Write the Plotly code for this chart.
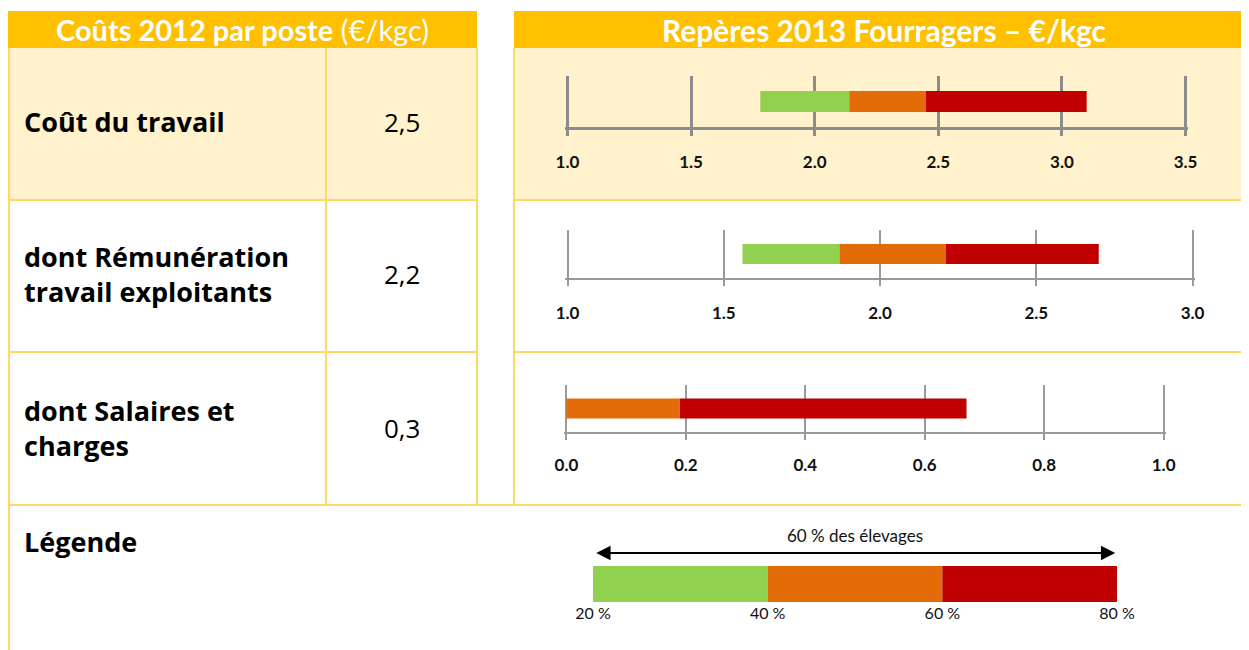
import plotly.graph_objects as go

# ---------------- data ----------------
categories = ["Coût du travail", "dont Rémunération<br>travail exploitants", "dont Salaires et<br>charges"]
values_2012 = [2.5, 2.2, 0.3]
p20 = [1.78, 1.56, 0.00]
p40 = [2.14, 1.87, 0.00]
p60 = [2.45, 2.21, 0.19]
p80 = [3.10, 2.70, 0.67]
axis_min = [1.0, 1.0, 0.0]
axis_max = [3.5, 3.0, 1.0]
axis_step = [0.5, 0.5, 0.2]
legend_pct = [20, 40, 60, 80]

header_left = "<b>Coûts 2012 par poste</b> (€/kgc)"
header_right = "<b>Repères 2013 Fourragers – €/kgc</b>"
legend_title = "Légende"
legend_arrow_text = "60 % des élevages"

GREEN, ORANGE, RED = "#92D050", "#E36C09", "#C00000"
GOLD, PALE, BORDER = "#FFC000", "#FFF2CC", "#FFD966"

W, H = 1249, 650
OFF = 8  # page offset of the figure inside the browser page
def X(px): return (px - OFF) / W
def Y(py): return 1 - (py - OFF) / H

FONT = "Lato"
FONT_LBL = "Open Sans"

fig = go.Figure()

# pixel placement of the three axis panels: x0, x1, ytop, ybottom
panels = [(565, 1188, 76, 127), (565, 1195, 230, 278), (564, 1166, 385, 432)]
bar_px = [21, 20, 20]
grid_style = [("#8C8C8C", 2.5), ("#9A9A9A", 1.5), ("#9A9A9A", 1.5)]
standoff = [12, 13, 11]

layout_axes = {}
for i in range(3):
    n = "" if i == 0 else str(i + 1)
    x0, x1, yt, yb = panels[i]
    h = bar_px[i] / (yb - yt)
    segs = [(p20[i], p40[i], GREEN), (p40[i], p60[i], ORANGE), (p60[i], p80[i], RED)]
    for a, b, c in segs:
        fig.add_trace(go.Bar(x=[b - a], base=[a], y=[0], orientation="h", width=h,
                             marker=dict(color=c, line=dict(width=0)),
                             xaxis="x" + n, yaxis="y" + n, showlegend=False,
                             hoverinfo="skip"))
    col, lw = grid_style[i]
    span = axis_max[i] - axis_min[i]
    pad = span * 0.004
    layout_axes["xaxis" + n] = dict(
        domain=[X(x0), X(x1)], anchor="y" + n, automargin=False,
        range=[axis_min[i] - pad, axis_max[i] + pad],
        tickmode="linear", tick0=axis_min[i], dtick=axis_step[i], tickformat=".1f",
        showgrid=True, gridcolor=col, gridwidth=lw,
        showline=True, linecolor=col, linewidth=lw,
        ticks="outside", ticklen=6, tickcolor=col, tickwidth=lw,
        ticklabelstandoff=standoff[i],
        tickfont=dict(family=FONT, size=17, color="#111111", weight="bold"),
        zeroline=False, fixedrange=True)
    layout_axes["yaxis" + n] = dict(
        domain=[Y(yb), Y(yt)], anchor="x" + n, range=[-0.5, 0.5], automargin=False,
        showgrid=False, showticklabels=False, zeroline=False, showline=False,
        fixedrange=True)

# legend bar
leg_colors = [GREEN, ORANGE, RED]
for k in range(3):
    fig.add_trace(go.Bar(x=[legend_pct[k + 1] - legend_pct[k]], base=[legend_pct[k]], y=[0],
                         orientation="h", width=1,
                         marker=dict(color=leg_colors[k], line=dict(width=0)),
                         xaxis="x4", yaxis="y4", showlegend=False, hoverinfo="skip"))
layout_axes["xaxis4"] = dict(
    domain=[X(593), X(1117)], anchor="y4", range=[legend_pct[0], legend_pct[-1]],
    automargin=False,
    tickvals=legend_pct, ticktext=[f"{v} %" for v in legend_pct],
    showgrid=False, showline=False, zeroline=False, ticks="",
    tickfont=dict(family=FONT, size=16, color="#111111"), fixedrange=True)
layout_axes["yaxis4"] = dict(domain=[Y(602), Y(566)], anchor="x4", range=[-0.5, 0.5],
                             automargin=False,
                             showgrid=False, showticklabels=False, zeroline=False,
                             fixedrange=True)

shapes = []
def rect(x0, y0, x1, y1, color):
    shapes.append(dict(type="rect", xref="paper", yref="paper", x0=X(x0), x1=X(x1),
                       y0=Y(y1), y1=Y(y0), fillcolor=color, line=dict(width=0), layer="below"))
def line(x0, y0, x1, y1):
    shapes.append(dict(type="line", xref="paper", yref="paper", x0=X(x0), x1=X(x1),
                       y0=Y(y0), y1=Y(y1), line=dict(color=BORDER, width=2), layer="below"))

rect(8, 11, 477, 48, GOLD)
rect(514, 11, 1260, 48, GOLD)
rect(8, 48, 477, 200, PALE)
rect(514, 48, 1260, 200, PALE)
line(9, 48, 9, 660)
line(326, 48, 326, 505)
line(477, 48, 477, 505)
line(514, 48, 514, 505)
line(8, 200, 477, 200)
line(514, 200, 1260, 200)
line(8, 352, 477, 352)
line(514, 352, 1260, 352)
line(8, 505, 1260, 505)

ann = []
def txt(text, x, y, size, family=FONT, xanchor="center", color="black", xref="paper"):
    ann.append(dict(text=text, x=x, y=y, xref=xref, yref="paper", xanchor=xanchor,
                    yanchor="middle", align="left" if xanchor == "left" else "center",
                    showarrow=False, font=dict(family=family, size=size, color=color)))

txt(header_left, X(242.5), Y(29.5), 29, color="white")
txt(header_right, X(884), Y(29.5), 30, color="white")
row_cy = [122, 274, 428]
for i in range(3):
    txt(f"<b>{categories[i]}</b>", X(22), Y(row_cy[i]), 27, family=FONT_LBL, xanchor="left")
    txt(f"{values_2012[i]:.1f}".replace(".", ","), X(401.5), Y(row_cy[i]), 26, family=FONT_LBL)
txt(f"<b>{legend_title}</b>", X(22), Y(541), 27, family=FONT_LBL, xanchor="left")
txt(legend_arrow_text, (legend_pct[0] + legend_pct[-1]) / 2, Y(535), 17, xref="x4",
    color="#111111")
ann.append(dict(text="", x=legend_pct[-1] - 0.2, xref="x4", y=Y(553), yref="paper",
                ax=legend_pct[0] + 0.2, axref="x4", ay=0, ayref="pixel",
                showarrow=True, arrowhead=2, arrowside="end+start", arrowsize=1.3,
                arrowwidth=2.2, arrowcolor="black"))

fig.update_layout(width=W, height=H, margin=dict(l=0, r=0, t=0, b=0, autoexpand=False),
                  paper_bgcolor="white", plot_bgcolor="rgba(0,0,0,0)", showlegend=False,
                  barmode="overlay", shapes=shapes, annotations=ann, **layout_axes)

fig.write_html("out.html")
